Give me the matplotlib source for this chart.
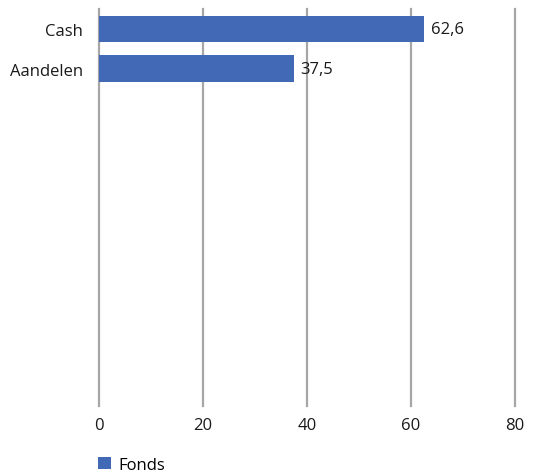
import matplotlib
matplotlib.use("Agg")
import matplotlib.pyplot as plt
from matplotlib.patches import Patch

# data
categories = ["Cash", "Aandelen"]
values = [62.6, 37.5]
value_labels = ["62,6", "37,5"]
series_name = "Fonds"
n_slots = 10  # lege categorieen onder de balken

plt.rcParams['font.family'] = ['Open Sans', 'DejaVu Sans']

fig = plt.figure(figsize=(5.42, 4.77), dpi=100)
ax = fig.add_axes([98.5 / 542, 70 / 477, 416.5 / 542, 397 / 477])

bar_color = "#4169B5"
ax.barh(range(len(categories)), values, height=0.66, color=bar_color, zorder=3)

for i, (v, t) in enumerate(zip(values, value_labels)):
    ax.annotate(t, (v, i), xytext=(5, 0), textcoords="offset points",
                va="center", ha="left", fontsize=12, color="#1a1a1a")

ax.set_xlim(0, 80)
ax.set_ylim(n_slots - 0.5, -0.5)
ax.set_xticks([0, 20, 40, 60, 80])
ax.set_yticks(range(len(categories)))
ax.set_yticklabels(categories)
ax.tick_params(axis="both", length=0, labelsize=12, colors="#1a1a1a")
ax.tick_params(axis="x", pad=8)
ax.tick_params(axis="y", pad=11)

ax.grid(axis="x", color="#A6A6A6", linewidth=1.6, zorder=0)
for gl in ax.get_xgridlines():
    gl.set_clip_on(False)
for s in ax.spines.values():
    s.set_visible(False)

handle = Patch(facecolor=bar_color, edgecolor="none")
fig.legend([handle], [series_name], loc="center left",
           bbox_to_anchor=(83 / 542, 1 - 466 / 477), frameon=False,
           fontsize=12, handlelength=0.75, handleheight=0.75, handletextpad=0.45)

fig.savefig("out.png", dpi=100)
